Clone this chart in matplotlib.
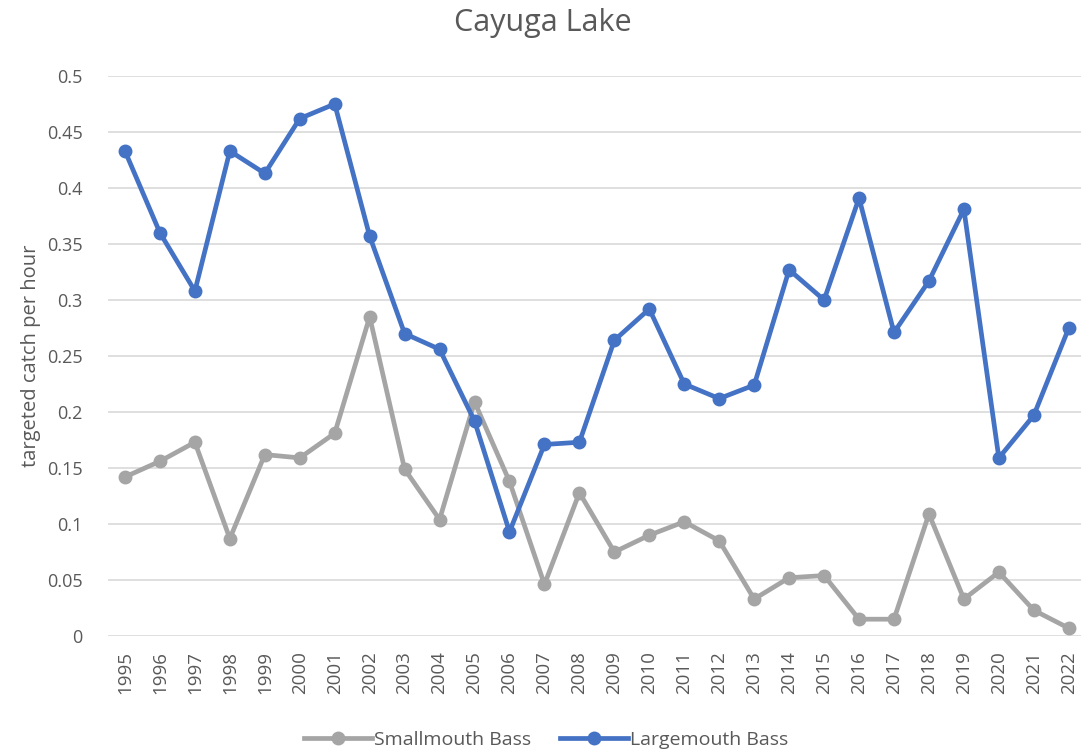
import matplotlib.pyplot as plt
import numpy as np

plt.rcParams['font.family'] = ['Open Sans', 'DejaVu Sans']

years = [str(y) for y in range(1995, 2023)]
smallmouth = [0.142, 0.156, 0.173, 0.087, 0.162, 0.159, 0.181, 0.285, 0.149, 0.104,
              0.209, 0.138, 0.046, 0.128, 0.075, 0.090, 0.102, 0.085, 0.033, 0.052,
              0.054, 0.015, 0.015, 0.109, 0.033, 0.057, 0.023, 0.007]
largemouth = [0.433, 0.360, 0.308, 0.433, 0.413, 0.462, 0.475, 0.357, 0.270, 0.256,
              0.192, 0.093, 0.171, 0.173, 0.264, 0.292, 0.225, 0.212, 0.224, 0.327,
              0.300, 0.391, 0.271, 0.317, 0.381, 0.159, 0.197, 0.275]

txt = '#595959'
fig = plt.figure(figsize=(10.81, 7.52), dpi=100)
ax = fig.add_axes([107.5/1081, 1 - 636/752, (1081 - 107.5)/1081, (636 - 76)/752])

x = np.arange(len(years))
ax.plot(x, smallmouth, color='#A5A5A5', lw=3.4, marker='o', ms=9, label='Smallmouth Bass')
ax.plot(x, largemouth, color='#4472C4', lw=3.4, marker='o', ms=9, label='Largemouth Bass')

ax.set_xlim(-0.5, 27.35)
ax.set_ylim(0, 0.5)
ax.set_yticks(np.arange(0, 0.501, 0.05))
ax.set_yticklabels(['0', '0.05', '0.1', '0.15', '0.2', '0.25', '0.3', '0.35', '0.4', '0.45', '0.5'])
ax.set_xticks(x)
ax.set_xticklabels(years, rotation=90)
ax.tick_params(axis='both', length=0, labelsize=13, colors=txt)
ax.tick_params(axis='x', labelsize=13.5, pad=11)
ax.tick_params(axis='y', pad=18)
ax.grid(axis='y', color='#D9D9D9', lw=1.2)
ax.set_axisbelow(True)
for s in ax.spines.values():
    s.set_visible(False)

ax.set_ylabel('targeted catch per hour', fontsize=14.5, color=txt, labelpad=4)
fig.text(0.502, 0.97, 'Cayuga Lake', ha='center', va='center', fontsize=22, color=txt)

fig.legend(loc='center', bbox_to_anchor=(0.505, 0.016), ncol=2, frameon=False,
           fontsize=14, labelcolor=txt, handlelength=3.5, columnspacing=1.5, handletextpad=0.1)

fig.savefig('out.png', dpi=100)
